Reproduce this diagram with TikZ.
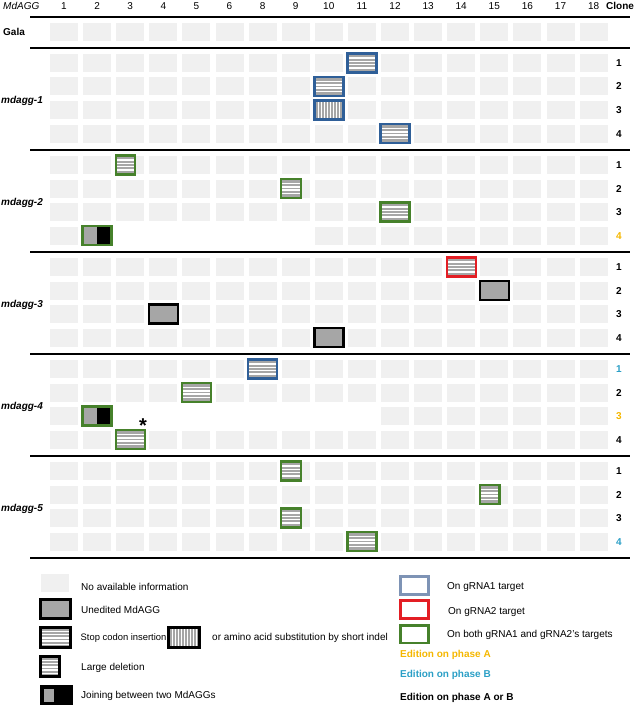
\documentclass[tikz,border=0pt]{standalone}
\usepackage{fontspec}
\setmainfont{Liberation Sans}
\definecolor{cellgray}{HTML}{F0F0F0}
\definecolor{midgray}{HTML}{A6A6A6}
\definecolor{editblue}{HTML}{2F5F98}
\definecolor{lightblue}{HTML}{7E93B5}
\definecolor{editred}{HTML}{E31E24}
\definecolor{editgreen}{HTML}{46812B}
\definecolor{phaseA}{HTML}{F5B700}
\definecolor{phaseB}{HTML}{2B9FC6}

\begin{document}
\begin{tikzpicture}[x=1pt,y=-1pt,
    cell/.style={fill=cellgray},
    sepline/.style={line width=2.2pt},
    editframe/.style={line width=2.4pt},
    stripe/.style={white,line width=1.5pt},
    lbl/.style={inner sep=0pt,anchor=base west},
    num/.style={inner sep=0pt,anchor=base}]
  \useasboundingbox (0,0) rectangle (634,706);

  % header
  \node[lbl,font=\itshape] (mdagg) at (3,9.5) {MdAGG};
  \foreach \c/\t in {1/1,2/2,3/3,4/4,5/5,6/6,7/8,8/9,9/10,10/11,11/12,12/13,13/14,14/15,15/16,16/17,17/18} {
    \pgfmathsetmacro\cx{64+33.1*(\c-1)}
    \node[num] (col\c) at (\cx,9.5) {\t};
  }
  \node[lbl,font=\bfseries] (clone) at (606,9.5) {Clone};

  % thick rules
  \foreach \y in {17,48,150,252,354,456,558}
    \draw[sepline] (30,\y) -- (630,\y);

  % Gala
  \node[lbl,font=\bfseries] (gala) at (3,35.5) {Gala};
  \foreach \c in {1,...,17} {
    \pgfmathsetmacro\cx{64+33.1*(\c-1)}
    \fill[cell] (\cx-14,23) rectangle (\cx+14,41);
  }

  % empty cells of the mutant lines
  \foreach \g in {0,...,4}
    \foreach \r in {1,...,4}
      \foreach \c in {1,...,17} {
        \pgfmathtruncatemacro\blank{(\g==1 && \r==4 && \c>2 && \c<9) || (\g==3 && \r==3 && \c>2 && \c<11)}
        \ifnum\blank=0
          \pgfmathsetmacro\cx{64+33.1*(\c-1)}
          \pgfmathsetmacro\ry{63+102*\g+23.5*(\r-1)}
          \fill[cell] (\cx-14,\ry-9) rectangle (\cx+14,\ry+9);
        \fi
      }

  % line names
  \foreach \g/\t in {0/mdagg-1,1/mdagg-2,2/mdagg-3,3/mdagg-4,4/mdagg-5} {
    \pgfmathsetmacro\gy{63+102*\g+35.25+5.5}
    \node[lbl,font=\bfseries\itshape] (line\g) at (1,\gy) {\t};
  }

  % clone numbers
  \foreach \g/\r/\col in {0/1/black,0/2/black,0/3/black,0/4/black,
                          1/1/black,1/2/black,1/3/black,1/4/phaseA,
                          2/1/black,2/2/black,2/3/black,2/4/black,
                          3/1/phaseB,3/2/black,3/3/phaseA,3/4/black,
                          4/1/black,4/2/black,4/3/black,4/4/phaseB} {
    \pgfmathsetmacro\ry{63+102*\g+23.5*(\r-1)}
    \node[num,font=\bfseries,text=\col] (clone\g\r) at (619,\ry+3.5) {\r};
  }

  % stop codon insertion
  \foreach \g/\r/\c/\col in {0/1/10/editblue,0/2/9/editblue,0/4/11/editblue,
                             1/3/11/editgreen,2/1/13/editred,3/1/7/editblue,
                             3/2/5/editgreen,3/4/3/editgreen,4/4/10/editgreen} {
    \pgfmathsetmacro\cx{64+33.1*(\c-1)}
    \pgfmathsetmacro\ry{63+102*\g+23.5*(\r-1)}
    \fill[midgray] (\cx-14,\ry-9) rectangle (\cx+14,\ry+9);
    \foreach \s in {-4.8,-1.6,1.6,4.8}
      \draw[stripe] (\cx-14,\ry+\s) -- (\cx+14,\ry+\s);
    \draw[editframe,\col] (\cx-14.5,\ry-9.5) rectangle (\cx+14.5,\ry+9.5);
  }

  % substitution by short indel
  \foreach \g/\r/\c/\col in {0/3/9/editblue} {
    \pgfmathsetmacro\cx{64+33.1*(\c-1)}
    \pgfmathsetmacro\ry{63+102*\g+23.5*(\r-1)}
    \fill[midgray] (\cx-14,\ry-9) rectangle (\cx+14,\ry+9);
    \foreach \s in {-10.5,-7.5,...,10.5}
      \draw[stripe,line width=1.3pt] (\cx+\s,\ry-9) -- (\cx+\s,\ry+9);
    \draw[editframe,\col] (\cx-14.5,\ry-9.5) rectangle (\cx+14.5,\ry+9.5);
  }

  % large deletion
  \foreach \g/\r/\c/\col in {1/1/3/editgreen,1/2/8/editgreen,4/1/8/editgreen,
                             4/2/14/editgreen,4/3/8/editgreen} {
    \pgfmathsetmacro\cx{64+33.1*(\c-1)}
    \pgfmathsetmacro\ry{63+102*\g+23.5*(\r-1)}
    \fill[midgray] (\cx-14,\ry-9) rectangle (\cx+4.5,\ry+9);
    \foreach \s in {-4.8,-1.6,1.6,4.8}
      \draw[stripe] (\cx-14,\ry+\s) -- (\cx+4.5,\ry+\s);
    \draw[editframe,\col] (\cx-14.5,\ry-9.5) rectangle (\cx+5,\ry+9.5);
  }

  % unedited
  \foreach \g/\r/\c in {2/2/14,2/3/4,2/4/9} {
    \pgfmathsetmacro\cx{64+33.1*(\c-1)}
    \pgfmathsetmacro\ry{63+102*\g+23.5*(\r-1)}
    \fill[midgray] (\cx-14,\ry-9) rectangle (\cx+14,\ry+9);
    \draw[editframe,black] (\cx-14.5,\ry-9.5) rectangle (\cx+14.5,\ry+9.5);
  }

  % joining between two MdAGGs
  \foreach \g/\r/\c in {1/4/2,3/3/2} {
    \pgfmathsetmacro\cx{64+33.1*(\c-1)}
    \pgfmathsetmacro\ry{63+102*\g+23.5*(\r-1)}
    \fill[midgray] (\cx-14,\ry-9) rectangle (\cx,\ry+9);
    \fill[black] (\cx,\ry-9) rectangle (\cx+14,\ry+9);
    \draw[editframe,editgreen] (\cx-14.5,\ry-9.5) rectangle (\cx+14.5,\ry+9.5);
  }

  \node[inner sep=0pt,anchor=north,font=\fontsize{20}{20}\selectfont\bfseries] (star) at (143,418.5) {*};

  % legend, left
  \fill[cell] (41,574) rectangle (69,592);
  \node[lbl] (leg1) at (81,590) {No available information};

  \fill[midgray] (41,600) rectangle (70,618);
  \draw[editframe] (40.5,599.5) rectangle (70.5,618.5);
  \node[lbl] (leg2) at (81,613.5) {Unedited MdAGG};

  \fill[midgray] (41,628) rectangle (70,647);
  \foreach \s in {631.5,634.7,637.9,641.1,644.3}
    \draw[stripe] (41,\s) -- (70,\s);
  \draw[editframe] (40.5,627.5) rectangle (70.5,647.5);
  \node[lbl,font=\fontsize{9.4}{11}\selectfont] (leg3) at (80.5,640.5) {Stop codon insertion};

  \fill[midgray] (169,628) rectangle (199,647);
  \foreach \s in {172.5,175.5,...,196.5}
    \draw[stripe,line width=1.3pt] (\s,628) -- (\s,647);
  \draw[editframe] (168.5,627.5) rectangle (199.5,647.5);
  \node[lbl] (leg3b) at (212,640.5) {or amino acid substitution by short indel};

  \fill[midgray] (41,657) rectangle (59,676);
  \foreach \s in {660.5,663.7,666.9,670.1,673.3}
    \draw[stripe] (41,\s) -- (59,\s);
  \draw[editframe] (40.5,656.5) rectangle (59.5,676.5);
  \node[lbl] (leg4) at (81,670) {Large deletion};

  \fill[black] (41,686) rectangle (72,704);
  \fill[midgray] (44,688.5) rectangle (54,701.5);
  \draw[editframe] (41.2,686.2) rectangle (71.8,703.8);
  \node[lbl] (leg5) at (81,698.5) {Joining between two MdAGGs};

  % legend, right
  \draw[editframe,lightblue] (400.5,576.5) rectangle (428.5,594.5);
  \node[lbl] (tgt1) at (447,589.5) {On gRNA1 target};
  \draw[editframe,editred] (400.5,600.5) rectangle (428.5,618.5);
  \node[lbl] (tgt2) at (448,614) {On gRNA2 target};
  \draw[editframe,editgreen] (400.5,625.5) rectangle (428.5,643);
  \node[lbl] (tgt3) at (447,637.5) {On both gRNA1 and gRNA2's targets};

  \node[lbl,font=\bfseries,text=phaseA] (phA) at (400,657) {Edition on phase A};
  \node[lbl,font=\bfseries,text=phaseB] (phB) at (400,677.5) {Edition on phase B};
  \node[lbl,font=\bfseries] (phAB) at (400,700.5) {Edition on phase A or B};
\end{tikzpicture}
\end{document}
